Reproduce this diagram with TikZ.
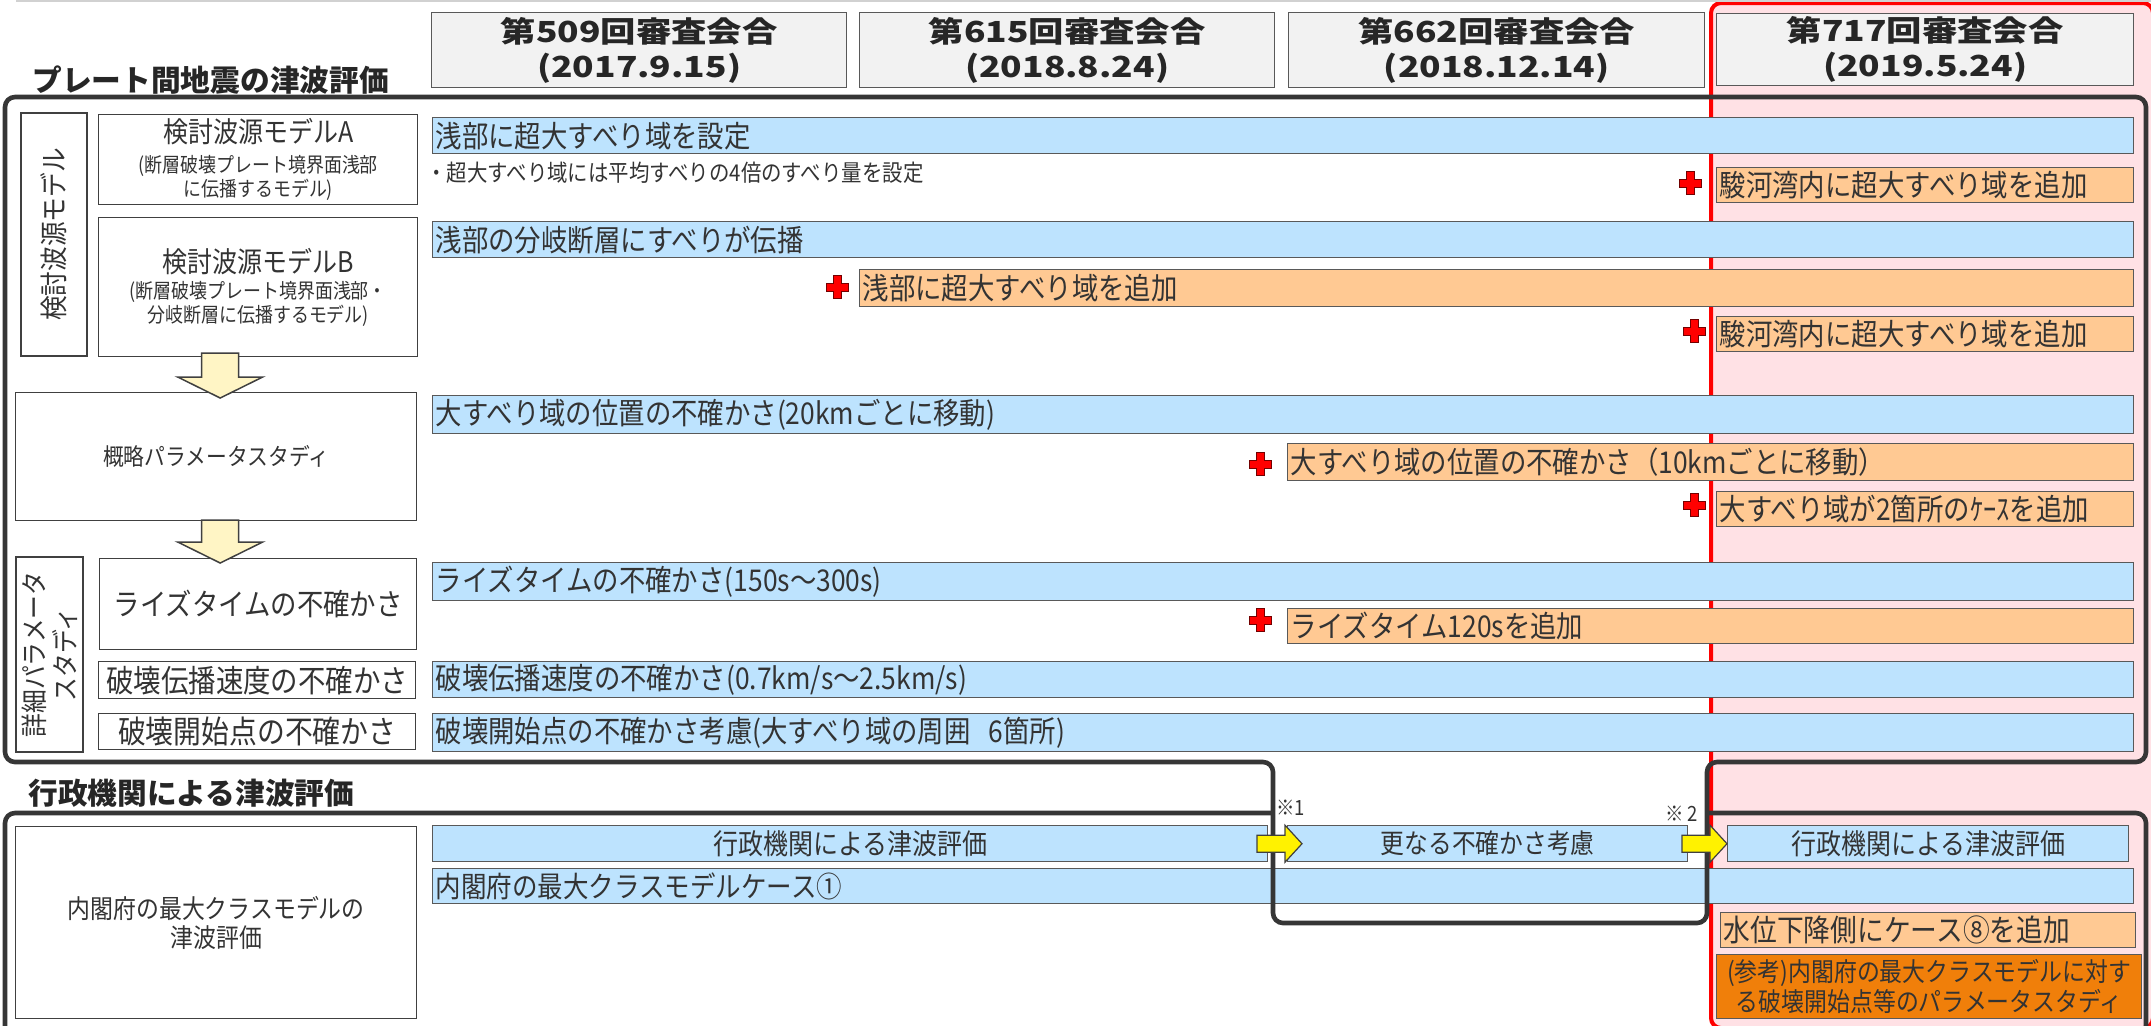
\documentclass[tikz,border=0pt]{standalone}
\usepackage{fontspec}
\setmainfont{Noto Sans CJK JP}
\newfontfamily\jp{Noto Sans CJK JP}[FakeStretch=0.88]
\newfontfamily\hdr{Noto Sans CJK JP}[FakeStretch=1.22]
\usetikzlibrary{calc}
\newcommand\fsz[2]{\fontsize{#1}{#2}\selectfont}
\definecolor{barblue}{HTML}{BDE3FE}
\definecolor{barorange}{HTML}{FFC993}
\definecolor{darkorange}{HTML}{F07F0A}
\definecolor{pinkbg}{HTML}{FFE1E5}
\definecolor{framec}{HTML}{363636}
\definecolor{edgec}{HTML}{595959}
\definecolor{txt}{HTML}{333333}
\definecolor{hdrfill}{HTML}{F2F2F2}
\definecolor{arrfill}{HTML}{FFF5C5}
\definecolor{darkedge}{HTML}{404040}
\newcommand\cbx[7]{\pgfmathsetmacro\bw{(#4-#2)*0.5}\pgfmathsetmacro\bhh{(#5-#3)*0.5}\node[#1,anchor=north west,minimum width=\bw pt,minimum height=\bhh pt] (#6) at (#2,#3) {#7};}
\newcommand\lbx[7]{\pgfmathsetmacro\bw{(#4-#2)*0.5-3}\pgfmathsetmacro\bhh{(#5-#3)*0.5}\node[#1,anchor=north west,text width=\bw pt,minimum height=\bhh pt,inner xsep=1.5pt,align=left] (#6) at (#2,#3) {#7};}
\tikzset{
  hdrbox/.style={draw=edgec, fill=hdrfill, line width=0.7pt, align=center, inner sep=0pt, font={\hdr\bfseries\fsz{14.5}{17.5}}, text=black!85},
  ttl/.style={anchor=west, inner sep=0pt, font={\bfseries\fsz{14.85}{16}}, text=black!85},
  lbox/.style={draw=darkedge, fill=white, line width=0.7pt, align=center, inner sep=0pt},
  bluebar/.style={draw=edgec, fill=barblue, line width=0.7pt, inner ysep=0pt, font={\jp\fsz{15}{18}}},
  orbar/.style={bluebar, fill=barorange},
  darkbar/.style={bluebar, fill=darkorange, align=center},
  frame/.style={draw=framec, line width=2.3pt, rounded corners=5pt},
  plaintext/.style={anchor=west, inner sep=0pt},
  pics/redplus/.style={code={\draw[fill=red, draw=red!45!black, line width=0.4pt] (-4,-11.5) -- (4,-11.5) -- (4,-4) -- (11,-4) -- (11,4) -- (4,4) -- (4,11.5) -- (-4,11.5) -- (-4,4) -- (-11,4) -- (-11,-4) -- (-4,-4) -- cycle;}},
  pics/dnarrow/.style={code={\draw[fill=arrfill, draw=darkedge, line width=0.75pt] (-18.5,-#1) -- (18.5,-#1) -- (18.5,-21) -- (42.5,-21) -- (0,0) -- (-42.5,-21) -- (-18.5,-21) -- cycle;}},
  pics/rtarrow/.style={code={\draw[fill=yellow, draw=darkedge, line width=0.6pt] (-45,-8.5) -- (-17,-8.5) -- (-17,-18.5) -- (0,0) -- (-17,18.5) -- (-17,8.5) -- (-45,8.5) -- cycle;}}
}
\begin{document}
\begin{tikzpicture}[x=0.5pt, y=-0.5pt, every node/.style={text=txt}]
\useasboundingbox (0,0) rectangle (2151,1025);
% highlighted column
\draw[draw=red, line width=2pt, fill=pinkbg, rounded corners=5pt] (1711,3) rectangle (2153,1028);
\draw[black!18, line width=0.75pt] (16,1) -- (2151,1);
% headers
\cbx{hdrbox}{431}{12}{846}{87}{h509}{第509回審査会合\\(2017.9.15)}
\cbx{hdrbox}{859}{12}{1274}{87}{h615}{第615回審査会合\\(2018.8.24)}
\cbx{hdrbox}{1288}{12}{1704}{87}{h662}{第662回審査会合\\(2018.12.14)}
\cbx{hdrbox}{1716}{13}{2133}{85}{h717}{第717回審査会合\\(2019.5.24)}
% titles
\node[ttl] (t1) at (32,80) {プレート間地震の津波評価};
\node[ttl] (t2) at (28,793) {行政機関による津波評価};
% left column
\node[lbox, rotate=90, minimum width=121.5pt, minimum height=33pt, font={\jp\fsz{14}{16}}] (v1) at (54,234.5) {検討波源モデル};
\cbx{lbox,font={\jp\fsz{10.2}{12}}}{98}{114}{417}{204}{ma}{{\fsz{14.2}{15}検討波源モデルA}\\[3pt](断層破壊プレート境界面浅部\\に伝播するモデル)}
\cbx{lbox,font={\jp\fsz{10.2}{12}}}{98}{217}{417}{356}{mb}{{\fsz{14.2}{15}検討波源モデルB}\\[1pt](断層破壊プレート境界面浅部・\\分岐断層に伝播するモデル)}
\cbx{lbox,font={\jp\fsz{11.8}{14}}}{15}{392}{416}{520}{gaiso}{概略パラメータスタディ}
\node[lbox, rotate=90, minimum width=97.5pt, minimum height=33.5pt, font={\jp\fsz{13.5}{15.5}}] (v2) at (49.5,654.5) {詳細パラメータ\\スタディ};
\cbx{lbox,font={\jp\fsz{15}{18}}}{99}{558}{416}{649}{rise}{ライズタイムの不確かさ}
\cbx{lbox,font={\jp\fsz{15.6}{18}}}{98}{661}{415}{698}{speed}{破壊伝播速度の不確かさ}
\cbx{lbox,font={\jp\fsz{15.8}{18}}}{98}{713}{415}{749}{startpt}{破壊開始点の不確かさ}
\cbx{lbox,font={\jp\fsz{13}{14.5}}}{15}{826}{416}{1018}{naikaku}{内閣府の最大クラスモデルの\\津波評価}
% blue bars
\lbx{bluebar}{432}{117}{2133}{153}{b1}{浅部に超大すべり域を設定}
\lbx{bluebar}{432}{221}{2133}{257}{b2}{浅部の分岐断層にすべりが伝播}
\lbx{bluebar}{432}{395}{2133}{433}{b3}{大すべり域の位置の不確かさ(20kmごとに移動)}
\lbx{bluebar}{432}{562}{2133}{600}{b4}{ライズタイムの不確かさ(150s～300s)}
\lbx{bluebar}{432}{661}{2133}{697}{b5}{破壊伝播速度の不確かさ(0.7km/s～2.5km/s)}
\lbx{bluebar}{432}{713}{2133}{751}{b6}{破壊開始点の不確かさ考慮(大すべり域の周囲\hspace{0.6em}6箇所)}
\cbx{bluebar,font={\jp\fsz{14.2}{16}}}{432}{825}{1267}{861}{g1}{行政機関による津波評価}
\cbx{bluebar,font={\jp\fsz{13.5}{16}}}{1287}{825}{1687}{861}{sara}{更なる不確かさ考慮}
\cbx{bluebar,font={\jp\fsz{14.2}{16}}}{1727}{825}{2128}{861}{g2}{行政機関による津波評価}
\lbx{bluebar,font={\jp\fsz{14.5}{16}}}{432}{868}{2133}{903}{b7}{内閣府の最大クラスモデルケース①}
% note
\node[plaintext, font={\jp\fsz{11.6}{14}}] (note) at (426,173) {・超大すべり域には平均すべりの4倍のすべり量を設定};
% orange bars
\lbx{orbar}{1716}{167}{2133}{202}{o1}{駿河湾内に超大すべり域を追加}
\lbx{orbar}{859}{269}{2133}{306}{o2}{浅部に超大すべり域を追加}
\lbx{orbar}{1716}{316}{2133}{351}{o3}{駿河湾内に超大すべり域を追加}
\lbx{orbar}{1287}{443}{2133}{480}{o4}{大すべり域の位置の不確かさ（10kmごとに移動）}
\lbx{orbar}{1716}{491}{2133}{526}{o5}{大すべり域が2箇所のｹｰｽを追加}
\lbx{orbar}{1287}{608}{2133}{643}{o6}{ライズタイム120sを追加}
\lbx{orbar,font={\jp\fsz{15.2}{18}}}{1720}{912}{2135}{947}{o7}{水位下降側にケース⑧を追加}
\cbx{darkbar,font={\jp\fsz{13}{15}}}{1716}{954}{2141}{1018}{o8}{(参考)内閣府の最大クラスモデルに対す\\る破壊開始点等のパラメータスタディ}
% frames
\draw[frame] (5,430) -- (5,97) -- (2146,97) -- (2146,762) -- (1707,762) -- (1707,923) -- (1273,923) -- (1273,762) -- (5,762) -- cycle;
\draw[frame] (1273,813) -- (5,813) -- (5,1040);
\draw[frame] (1707,813) -- (2146,813) -- (2146,1040);
% block arrows
\pic at ($(gaiso.north)+(4,6)$) {dnarrow=45};
\pic at ($(rise.north)+(-38,5)$) {dnarrow=43};
\pic at ($(sara.west)+(15,0)$) {rtarrow};
\pic at (g2.west) {rtarrow};
% notes on arrows
\node[plaintext, font={\jp\fsz{10.5}{12}}] (n1) at (1276,808) {※1};
\node[plaintext, font={\jp\fsz{10.5}{12}}] (n2) at (1665,814) {※\,2};
% plus marks
\pic at (1690,183) {redplus};
\pic at (837,287) {redplus};
\pic at (1694,331) {redplus};
\pic at (1260,464) {redplus};
\pic at (1694,505) {redplus};
\pic at (1260,620) {redplus};
\end{tikzpicture}
\end{document}
